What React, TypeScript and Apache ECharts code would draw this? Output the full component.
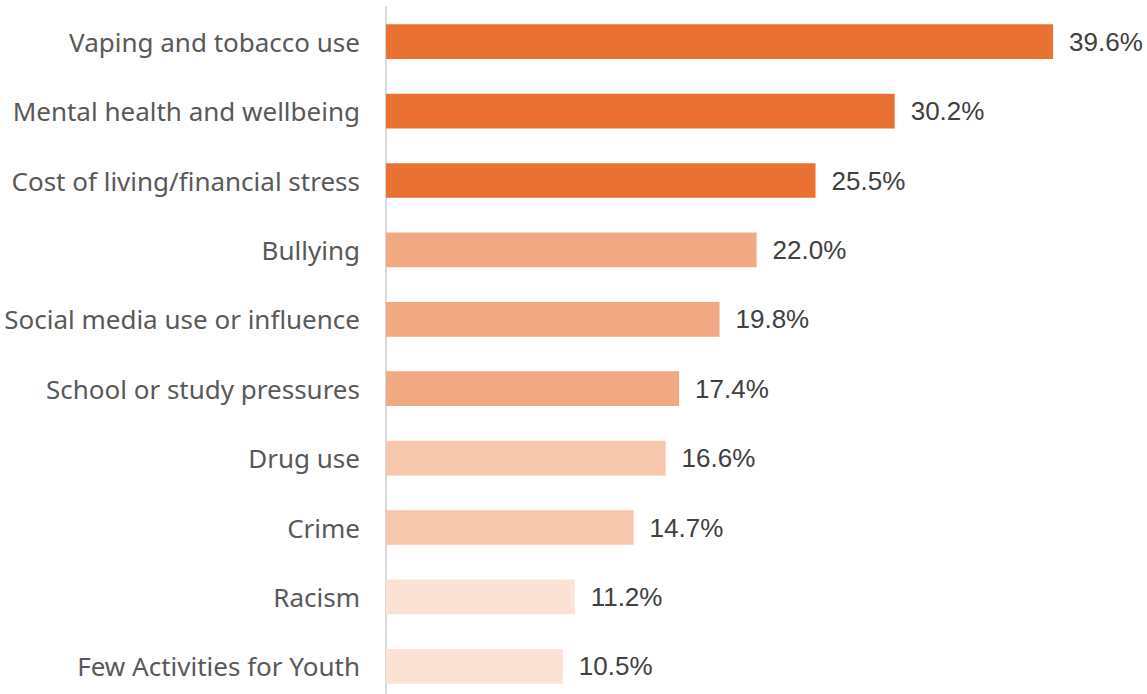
import React, { useEffect, useRef } from "react";
import * as echarts from "echarts";

const categories = [
  "Vaping and tobacco use",
  "Mental health and wellbeing",
  "Cost of living/financial stress",
  "Bullying",
  "Social media use or influence",
  "School or study pressures",
  "Drug use",
  "Crime",
  "Racism",
  "Few Activities for Youth",
];
const values = [39.6, 30.2, 25.5, 22.0, 19.8, 17.4, 16.6, 14.7, 11.2, 10.5];
const barColors = [
  "#E97132", "#E97132", "#E97132",
  "#F1A983", "#F1A983", "#F1A983",
  "#F6C6AD", "#F6C6AD",
  "#FBE2D5", "#FBE2D5",
];

export default function App() {
  const ref = useRef<HTMLDivElement>(null);
  useEffect(() => {
    if (!ref.current) return;
    const chart = echarts.init(ref.current, null, { renderer: "svg" });
    chart.setOption({
      animation: false,
      grid: { left: 386, right: 3, top: 7, bottom: 7, containLabel: false },
      xAxis: {
        type: "value",
        min: 0,
        max: 45,
        show: false,
      },
      yAxis: {
        type: "category",
        inverse: true,
        data: categories,
        axisLine: { show: true, lineStyle: { color: "#D9D9D9", width: 2 } },
        axisTick: { show: false },
        splitLine: { show: false },
        axisLabel: {
          margin: 26,
          fontFamily: "Noto Sans",
          fontSize: 26,
          color: "#595959",
        },
      },
      series: [
        {
          type: "bar",
          data: values.map((v, i) => ({ value: v, itemStyle: { color: barColors[i] } })),
          barWidth: "50%",
          label: {
            show: true,
            position: "right",
            distance: 16,
            fontFamily: "Liberation Sans",
            fontSize: 26,
            color: "#404040",
            formatter: (p: any) => p.value.toFixed(1) + "%",
          },
        },
      ],
    });
    return () => chart.dispose();
  }, []);
  return (
    <div
      style={{ position: "fixed", left: 0, top: 0, width: 1147, height: 694, overflow: "hidden", background: "#fff" }}
    >
      <div ref={ref} style={{ width: 1147, height: 708 }} />
    </div>
  );
}
